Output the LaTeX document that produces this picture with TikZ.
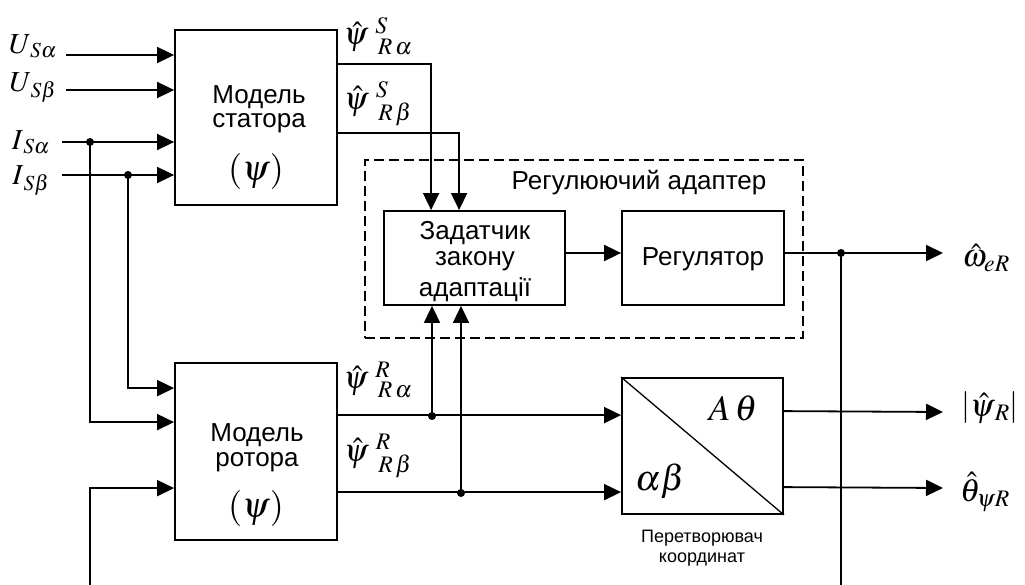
\documentclass[tikz,border=0pt]{standalone}
\usepackage{mathptmx}
\usepackage{fontspec}
\setmainfont{Liberation Sans}
\usetikzlibrary{arrows.meta}
\tikzset{
  blk/.style={draw, line width=1.8pt, inner sep=0pt},
  conn/.style={line width=1.8pt},
  arr/.style={conn, -{Triangle[length=17pt,width=16pt]}},
  jdot/.style={circle, fill, inner sep=0pt, minimum size=8pt},
  bt/.style={inner sep=0pt, font=\fontsize{26}{30}\selectfont},
  ml/.style={inner sep=0pt, font=\fontsize{32}{36}\selectfont},
  il/.style={inner sep=0pt, font=\fontsize{29}{32}\selectfont},
  sl/.style={inner sep=0pt, font=\fontsize{18}{20}\selectfont, align=center}
}
\begin{document}
\begin{tikzpicture}[x=1pt,y=-1pt]
\useasboundingbox (0,0) rectangle (1025,585);
% blocks
\node[blk, minimum width=162pt, minimum height=175pt] (st) at (256,117.5) {};
\node[blk, minimum width=162pt, minimum height=177pt] (ro) at (256,451.5) {};
\node[blk, minimum width=181pt, minimum height=94pt] (zd) at (474.5,258) {};
\node[blk, minimum width=162pt, minimum height=94pt] (rg) at (703,258) {};
\node[blk, minimum width=161pt, minimum height=136pt] (cv) at (702.5,446) {};
\node[draw, line width=1.6pt, dash pattern=on 10pt off 5pt, inner sep=0pt,
      minimum width=438pt, minimum height=178pt] (ad) at (584,249) {};
\draw[line width=1.3pt] (cv.north west) -- (cv.south east);
% block texts
\node[bt] (st1) at (259,97) {Модель};
\node[bt] (st2) at (259,123) {статора};
\node[bt, font=\fontsize{36}{40}\selectfont] (st3) at (256,172) {$(\psi)$};
\node[bt] (ro1) at (257,435) {Модель};
\node[bt] (ro2) at (257,462) {ротора};
\node[bt, font=\fontsize{36}{40}\selectfont] (ro3) at (256,508) {$(\psi)$};
\node[bt] (zd1) at (475,233) {Задатчик};
\node[bt] (zd2) at (475,261) {закону};
\node[bt] (zd3) at (475,290) {адаптації};
\node[bt] (rg1) at (703,259) {Регулятор};
\node[bt] (adt) at (639,183) {Регулюючий адаптер};
\node[ml, font=\fontsize{36}{40}\selectfont] (cva) at (733,408) {$A\,\theta$};
\node[ml, font=\fontsize{36}{40}\selectfont] (cvb) at (660,481) {$\alpha\beta$};
\node[sl] (cvc) at (702,548) {Перетворювач\\координат};
% input labels
\node[il] (lua) at (33,46) {$U_{\,S\alpha}$};
\node[il] (lub) at (33,88) {$U_{\,S\beta}$};
\node[il] (lia) at (31,142) {$I_{\,S\alpha}$};
\node[il] (lib) at (31,181) {$I_{\,S\beta}$};
\coordinate (ua) at (66,55);
\coordinate (ub) at (66,90);
\coordinate (ia) at (62,142);
\coordinate (ib) at (62,175);
\draw[arr] (ua) -- (ua -| st.west);
\draw[arr] (ub) -- (ub -| st.west);
\draw[arr] (ia) -- (ia -| st.west);
\draw[arr] (ib) -- (ib -| st.west);
\node[jdot] (j1) at (90,142) {};
\node[jdot] (j2) at (128,175) {};
\draw[arr] (j2.center) |- ([yshift=-26pt]ro.north west);
\draw[arr] (j1.center) |- ([yshift=-60pt]ro.north west);
\coordinate (b1) at (90,585);
\draw[arr] (b1) |- ([yshift=-126pt]ro.north west);
% stator outputs
\node[ml] (lsa) at (378,36) {$\hat{\psi}\;^{S}_{\,R\,\alpha}$};
\node[ml] (lsb) at (378,104) {$\hat{\psi}\;^{S}_{\,R\,\beta}$};
\draw[arr] ([yshift=-35pt]st.north east) -| ([xshift=48pt]zd.north west);
\draw[arr] ([yshift=-104pt]st.north east) -| ([xshift=76pt]zd.north west);
% adapter
\draw[arr] ([yshift=5pt]zd.east) -- ([yshift=5pt]rg.west);
\node[jdot] (j3) at (841,253) {};
\draw[conn] ([yshift=5pt]rg.east) -- (j3.center);
\coordinate (b2) at (841,585);
\draw[conn] (j3.center) -- (b2);
\coordinate (oe) at (943,253);
\draw[arr] (j3.center) -- (oe);
\node[ml] (lom) at (986,258) {$\hat{\omega}_{eR}$};
% rotor outputs
\node[ml] (lra) at (378,380) {$\hat{\psi}\;^{R}_{\,R\,\alpha}$};
\node[ml] (lrb) at (378,456) {$\hat{\psi}\;^{R}_{\,R\,\beta}$};
\draw[arr] ([yshift=-53pt]ro.north east) -- ([yshift=-38pt]cv.north west);
\draw[arr] ([yshift=-130pt]ro.north east) -- ([yshift=-115pt]cv.north west);
\node[jdot] (j4) at (432,416) {};
\node[jdot] (j5) at (461,493) {};
\draw[arr] (j4.center) -- (j4 |- zd.south);
\draw[arr] (j5.center) -- (j5 |- zd.south);
% converter outputs
\coordinate (o2) at (943,412);
\coordinate (o3) at (943,488);
\draw[arr] ([yshift=-34pt]cv.north east) -- (o2);
\draw[arr] ([yshift=-110pt]cv.north east) -- (o3);
\node[ml] (lpr) at (990,408) {$\left|\hat{\psi}_{\,R}\right|$};
\node[ml] (lth) at (985,492) {$\hat{\theta}_{\psi R}$};
\end{tikzpicture}
\end{document}
